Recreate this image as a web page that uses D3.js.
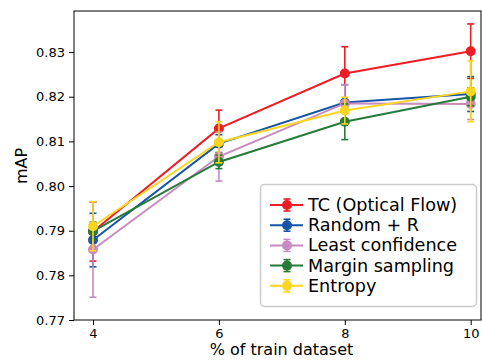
<!DOCTYPE html>
<html><head><meta charset="utf-8">
<script src="https://cdn.jsdelivr.net/npm/d3@7"></script>
<style>body{margin:0;background:#fff}svg{display:block;font-family:"DejaVu Sans",sans-serif}</style>
</head><body><svg id="c" width="482" height="360"></svg>
<script>
const xValues = [4, 6, 8, 10];
const seriesNames = ["TC (Optical Flow)", "Random + R", "Least confidence", "Margin sampling", "Entropy"];
const seriesColors = ["#ee1c25", "#1654a8", "#c88ac0", "#267a3a", "#fcd520"];
const tcMean = [0.7898, 0.8129, 0.8252, 0.8302];
const tcErr = [0.0066, 0.0041, 0.0060, 0.0061];
const randomMean = [0.7879, 0.8095, 0.8187, 0.8206];
const randomErr = [0.0060, 0.0020, 0.0040, 0.0039];
const leastMean = [0.7858, 0.8066, 0.8185, 0.8184];
const leastErr = [0.0107, 0.0055, 0.0042, 0.0035];
const marginMean = [0.7899, 0.8054, 0.8144, 0.8200];
const marginErr = [0.0020, 0.0015, 0.0040, 0.0020];
const entropyMean = [0.7910, 0.8098, 0.8169, 0.8212];
const entropyErr = [0.0055, 0.0046, 0.0030, 0.0068];
const yTicks = [0.77, 0.78, 0.79, 0.80, 0.81, 0.82, 0.83];
const xTicks = [4, 6, 8, 10];

const means = [tcMean, randomMean, leastMean, marginMean, entropyMean];
const errs = [tcErr, randomErr, leastErr, marginErr, entropyErr];

const svg = d3.select("#c");
const L = 74, R = 481, T = 11, B = 320;
const x = d3.scaleLinear().domain([3.698, 10.164]).range([L, R]);
const y = d3.scaleLinear().domain([0.77, 0.8392]).range([B, T]);

// axes
const gx = svg.append("g").attr("transform", `translate(0,${B})`)
  .call(d3.axisBottom(x).tickValues(xTicks).tickFormat(d3.format("d")).tickSize(5).tickPadding(4));
const gy = svg.append("g").attr("transform", `translate(${L},0)`)
  .call(d3.axisLeft(y).tickValues(yTicks).tickFormat(d3.format(".2f")).tickSize(5).tickPadding(4));
[gx, gy].forEach(g => {
  g.select(".domain").remove();
  g.selectAll("text").attr("font-size", 13).attr("fill", "#000").attr("font-family", "DejaVu Sans");
  g.selectAll("line").attr("stroke", "#000").attr("stroke-width", 1);
});
svg.append("rect").attr("x", L).attr("y", T).attr("width", R - L).attr("height", B - T)
  .attr("fill", "none").attr("stroke", "#000").attr("stroke-width", 1);

svg.append("text").attr("x", (L + R) / 2 + 4).attr("y", 355).attr("text-anchor", "middle")
  .attr("font-size", 16).text("% of train dataset");
svg.append("text").attr("transform", "translate(27,166) rotate(-90)").attr("text-anchor", "middle")
  .attr("font-size", 16).text("mAP");

// series
const line = d3.line().x((d, i) => x(xValues[i])).y(d => y(d));
means.forEach((m, s) => {
  const c = seriesColors[s];
  const g = svg.append("g");
  g.append("path").attr("d", line(m)).attr("fill", "none").attr("stroke", c).attr("stroke-width", 2);
  m.forEach((v, i) => {
    const cx = x(xValues[i]);
    const e = errs[s][i];
    g.append("line").attr("x1", cx).attr("x2", cx).attr("y1", y(v - e)).attr("y2", y(v + e))
      .attr("stroke", c).attr("stroke-width", 1.6);
    [v - e, v + e].forEach(t => g.append("line").attr("x1", cx - 3.5).attr("x2", cx + 3.5)
      .attr("y1", y(t)).attr("y2", y(t)).attr("stroke", c).attr("stroke-width", 1.6));
    g.append("circle").attr("cx", cx).attr("cy", y(v)).attr("r", 5).attr("fill", c);
  });
});

// legend
const lg = svg.append("g");
lg.append("rect").attr("x", 260.5).attr("y", 184.5).attr("width", 216).attr("height", 122).attr("rx", 4)
  .attr("fill", "#fff").attr("fill-opacity", 0.85).attr("stroke", "#cccccc").attr("stroke-width", 1.5);
seriesNames.forEach((n, s) => {
  const cy = 205 + s * 20.2;
  const c = seriesColors[s];
  lg.append("line").attr("x1", 270).attr("x2", 303).attr("y1", cy).attr("y2", cy).attr("stroke", c).attr("stroke-width", 2);
  lg.append("line").attr("x1", 287).attr("x2", 287).attr("y1", cy - 6).attr("y2", cy + 6).attr("stroke", c).attr("stroke-width", 1.6);
  [cy - 6, cy + 6].forEach(t => lg.append("line").attr("x1", 283.5).attr("x2", 290.5).attr("y1", t).attr("y2", t).attr("stroke", c).attr("stroke-width", 1.6));
  lg.append("circle").attr("cx", 287).attr("cy", cy).attr("r", 5).attr("fill", c);
  lg.append("text").attr("x", 308).attr("y", cy + 6).attr("font-size", 17.6).attr("fill", "#000").text(n);
});
</script></body></html>
